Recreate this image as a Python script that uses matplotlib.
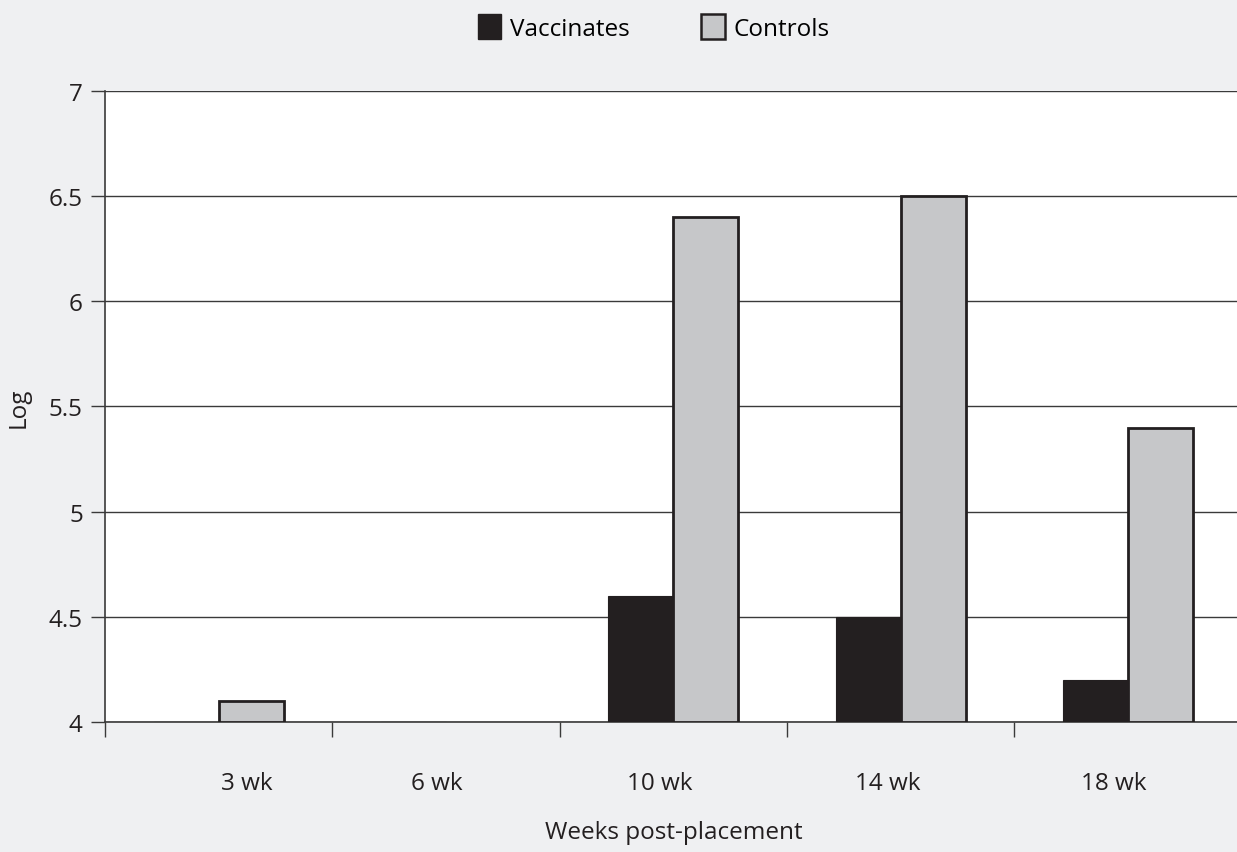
import numpy as np
import matplotlib
matplotlib.use("Agg")
import matplotlib.pyplot as plt
import matplotlib.transforms as mtransforms
from matplotlib.patches import Patch

categories = ["3 wk", "6 wk", "10 wk", "14 wk", "18 wk"]
vaccinates = [4.0, 4.0, 4.6, 4.5, 4.2]
controls = [4.1, 4.0, 6.4, 6.5, 5.4]
y_ticks = [4, 4.5, 5, 5.5, 6, 6.5, 7]
y_tick_labels = ["4", "4.5", "5", "5.5", "6", "6.5", "7"]

plt.rcParams["font.family"] = ["Open Sans", "DejaVu Sans"]

bg = "#eff0f2"
ink = "#231f20"
fs = 17.5
fig = plt.figure(figsize=(12.37, 8.53), dpi=100, facecolor=bg)
ax = fig.add_axes([0.0849, 0.1524, 0.919, 0.7398])
ax.set_facecolor("white")

x = np.arange(len(categories))
w = 0.286
base = 4.0
vac_h = [v - base for v in vaccinates]
con_h = [v - base for v in controls]

ax.bar(x - w / 2, vac_h, w, bottom=base, color=ink, edgecolor=ink,
       linewidth=0.8, zorder=3)
con_edges = ["none" if h <= 0 else ink for h in con_h]
ax.bar(x + w / 2, con_h, w, bottom=base, color="#c6c7c9", edgecolor=con_edges,
       linewidth=2, zorder=3)

ax.set_xlim(-0.5, len(categories) - 0.5)
ax.set_ylim(4, 7)
ax.set_yticks(y_ticks)
ax.set_yticklabels(y_tick_labels, fontsize=fs, color=ink)
ax.yaxis.grid(True, color="#3a3a3a", linewidth=1.0, zorder=0)
ax.set_axisbelow(True)

# category labels at centres, tick marks between categories
ax.set_xticks(x)
ax.set_xticklabels(categories, fontsize=fs, color=ink)
ax.tick_params(axis="x", length=0, pad=35)
ax.set_xticks(np.arange(-0.5, len(categories), 1.0), minor=True)
ax.tick_params(axis="x", which="minor", length=11, width=1, color="#3a3a3a")
ax.tick_params(axis="y", length=10, width=1, color="#3a3a3a", pad=6)

# the original's category labels sit a little off-centre
label_shift_px = [28, -9, -14, -13, -14]
for lab, dx in zip(ax.get_xticklabels(), label_shift_px):
    lab.set_transform(lab.get_transform() +
                      mtransforms.ScaledTranslation(dx / 100, 0, fig.dpi_scale_trans))

for side in ["top", "right"]:
    ax.spines[side].set_visible(False)
ax.spines["left"].set_color("#3a3a3a")
ax.spines["left"].set_linewidth(1.2)
ax.spines["bottom"].set_color("#3a3a3a")
ax.spines["bottom"].set_linewidth(1.2)

ax.set_xlabel("Weeks post-placement", fontsize=fs, color=ink, labelpad=18)
ax.set_ylabel("Log", fontsize=fs, color=ink, labelpad=13)

handles = [Patch(facecolor=ink, edgecolor=ink, label="Vaccinates"),
           Patch(facecolor="#c6c7c9", edgecolor=ink, linewidth=1.8, label="Controls")]
fig.legend(handles=handles, loc="upper center", bbox_to_anchor=(0.5285, 1.008), ncol=2,
           frameon=False, fontsize=fs, handlelength=0.95, handleheight=1.2,
           columnspacing=2.95, handletextpad=0.35)

fig.savefig("out.png", dpi=100, facecolor=bg)
